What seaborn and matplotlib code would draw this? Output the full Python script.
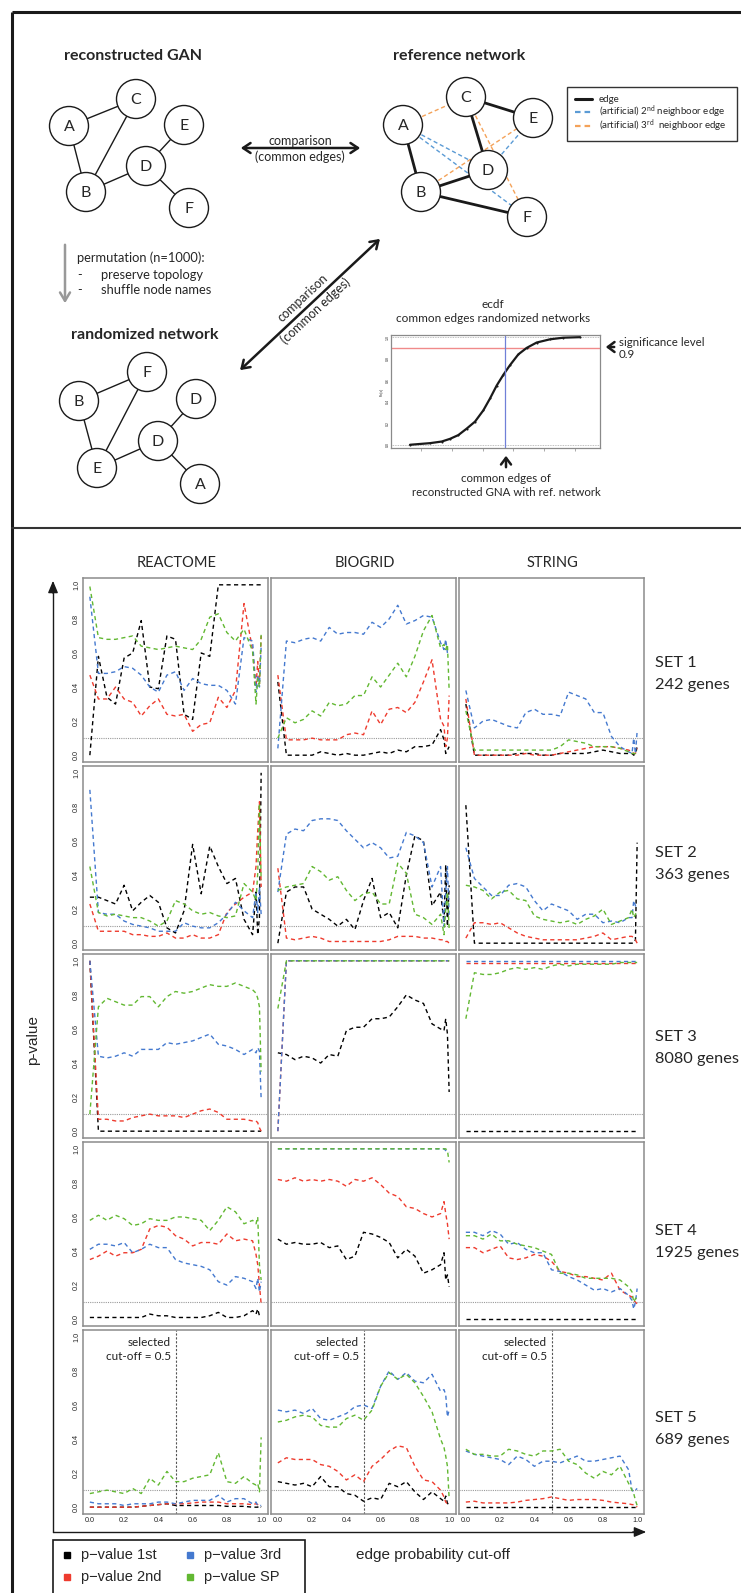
import matplotlib
matplotlib.use("Agg")
import matplotlib.pyplot as plt
import seaborn as sns
import pandas as pd
from matplotlib.patches import Circle, Rectangle

sns.set_theme(style="white")
plt.rcParams["font.family"] = ["Lato", "DejaVu Sans"]
plt.rcParams["mathtext.default"] = "regular"

# ---------------------------------------------------------------- data
cutoffs = [0.00, 0.05, 0.10, 0.15, 0.20, 0.25, 0.30, 0.35, 0.40, 0.45, 0.50, 0.55,
           0.60, 0.65, 0.70, 0.75, 0.80, 0.85, 0.90, 0.95, 0.97, 0.98, 0.99, 1.00]
series_names = ["1st", "2nd", "3rd", "SP"]
series_colors = ["#000000", "#EE3B2E", "#4479CF", "#62B832"]
databases = ["REACTOME", "BIOGRID", "STRING"]
set_names = ["SET 1", "SET 2", "SET 3", "SET 4", "SET 5"]
gene_counts = ["242 genes", "363 genes", "8080 genes", "1925 genes", "689 genes"]
ytick_vals = [0.0, 0.2, 0.4, 0.6, 0.8, 1.0]
xtick_vals = [0.0, 0.2, 0.4, 0.6, 0.8, 1.0]
significance = 0.1
selected_cutoff = 0.5

# SET 1
s1_rea_1st = [0, .58, .34, .30, .57, .60, .79, .40, .39, .70, .68, .24, .21, .60, .58, 1, 1, 1, 1, 1, 1, 1, 1, 1]
s1_rea_2nd = [.47, .33, .33, .40, .33, .31, .23, .29, .33, .24, .23, .24, .14, .18, .19, .34, .28, .38, .89, .62, .40, .55, .42, .70]
s1_rea_3rd = [.93, .48, .48, .49, .52, .51, .47, .40, .37, .47, .49, .38, .45, .42, .41, .41, .38, .30, .69, .67, .37, .47, .40, .64]
s1_rea_sp = [.99, .69, .68, .68, .69, .70, .64, .63, .62, .63, .64, .63, .62, .68, .81, .83, .72, .67, .74, .61, .30, .45, .40, .71]
s1_bio_1st = [.43, 0, 0, 0, 0, .02, .01, 0, .01, 0, 0, .01, .02, .01, .03, .02, .05, .05, .06, .15, .09, .01, .03, .05]
s1_bio_2nd = [.47, .09, .09, .09, .10, .09, .09, .09, .12, .13, .12, .26, .18, .27, .28, .25, .31, .43, .56, .21, .17, .05, .10, .35]
s1_bio_3rd = [.04, .67, .66, .68, .69, .67, .75, .71, .72, .72, .71, .78, .75, .80, .88, .77, .79, .82, .81, .66, .62, .68, .60, .61]
s1_bio_sp = [.10, .22, .19, .21, .26, .23, .31, .29, .30, .35, .35, .46, .40, .47, .54, .46, .58, .73, .82, .63, .65, .62, .65, .38]
s1_str_1st = [.30, 0, 0, 0, 0, 0, .01, .01, .01, 0, 0, .01, .01, .01, .01, .02, .03, .02, .01, .01, .01, 0, .01, .05]
s1_str_2nd = [.33, 0, 0, 0, 0, 0, 0, .01, 0, 0, 0, .01, .02, .03, .04, .05, .05, .05, .04, .03, .02, .01, .01, .04]
s1_str_3rd = [.38, .16, .20, .21, .19, .17, .16, .25, .27, .24, .24, .23, .37, .35, .33, .25, .25, .11, .05, .02, .01, .10, .01, .14]
s1_str_sp = [.26, .03, .03, .03, .03, .03, .03, .03, .03, .03, .03, .05, .09, .08, .07, .05, .05, .05, .04, .02, .01, .01, .01, .03]
# SET 2
s2_rea_1st = [.27, .27, .25, .23, .34, .19, .24, .28, .24, .09, .06, .19, .58, .29, .57, .45, .35, .38, .14, .05, .30, .05, .15, 1.0]
s2_rea_2nd = [.23, .07, .07, .07, .07, .05, .05, .04, .04, .06, .03, .03, .05, .03, .03, .05, .18, .23, .27, .30, .45, .66, .83, .33]
s2_rea_3rd = [.90, .18, .17, .17, .13, .11, .10, .09, .07, .07, .07, .12, .10, .09, .09, .12, .17, .24, .19, .15, .30, .18, .33, .17]
s2_rea_sp = [.45, .18, .16, .17, .16, .15, .15, .13, .10, .13, .25, .23, .19, .17, .18, .16, .15, .16, .35, .30, .25, .41, .82, .37]
s2_bio_1st = [0, .30, .33, .33, .20, .17, .14, .10, .14, .08, .25, .38, .15, .18, .09, .40, .63, .60, .22, .30, .12, .46, .10, .34]
s2_bio_2nd = [.44, .03, .02, .03, .04, .03, .01, .01, .01, .01, .01, .01, .01, .02, .04, .04, .04, .03, .03, .02, .02, .01, .01, 0]
s2_bio_3rd = [.30, .64, .67, .66, .72, .73, .73, .72, .66, .61, .56, .59, .56, .50, .51, .65, .63, .59, .33, .45, .10, .30, .45, .16]
s2_bio_sp = [.31, .33, .34, .35, .45, .42, .37, .39, .31, .25, .29, .30, .23, .23, .47, .41, .17, .15, .11, .17, .05, .20, .30, .08]
s2_str_1st = [.81, 0, 0, 0, 0, 0, 0, 0, 0, 0, 0, 0, 0, 0, 0, 0, 0, 0, 0, 0, 0, 0, .02, .59]
s2_str_2nd = [.03, .12, .12, .11, .12, .09, .06, .04, .03, .02, .02, .02, .02, .02, .03, .04, .06, .02, .03, .04, .04, .03, .02, 0]
s2_str_3rd = [.56, .38, .33, .28, .28, .34, .35, .33, .25, .19, .23, .21, .19, .14, .17, .17, .12, .13, .12, .15, .15, .25, .22, .20]
s2_str_sp = [.34, .33, .31, .26, .30, .31, .26, .25, .16, .14, .13, .12, .13, .11, .14, .16, .20, .11, .13, .15, .20, .15, .17, .19]
# SET 3
s3_rea_1st = [1.0, 0, 0, 0, 0, 0, 0, 0, 0, 0, 0, 0, 0, 0, 0, 0, 0, 0, 0, 0, 0, 0, 0, 0]
s3_rea_2nd = [1.0, .07, .07, .06, .06, .08, .09, .10, .09, .09, .09, .08, .10, .12, .13, .11, .07, .07, .07, .06, .06, .05, .02, 0]
s3_rea_3rd = [1.0, .44, .43, .44, .46, .44, .48, .48, .48, .52, .51, .52, .53, .55, .57, .51, .50, .48, .45, .48, .46, .49, .47, .19]
s3_rea_sp = [.10, .73, .78, .76, .74, .74, .79, .79, .73, .79, .82, .81, .82, .84, .86, .85, .85, .87, .85, .83, .81, .78, .73, .35]
s3_bio_1st = [.46, .45, .42, .44, .43, .40, .45, .44, .59, .61, .61, .66, .66, .67, .73, .80, .77, .75, .63, .60, .59, .66, .57, .23]
s3_bio_2nd = [0, 1, 1, 1, 1, 1, 1, 1, 1, 1, 1, 1, 1, 1, 1, 1, 1, 1, 1, 1, 1, 1, 1, 1]
s3_bio_3rd = [0, 1, 1, 1, 1, 1, 1, 1, 1, 1, 1, 1, 1, 1, 1, 1, 1, 1, 1, 1, 1, 1, 1, 1]
s3_bio_sp = [.72, 1, 1, 1, 1, 1, 1, 1, 1, 1, 1, 1, 1, 1, 1, 1, 1, 1, 1, 1, 1, 1, 1, 1]
s3_str_1st = [0, 0, 0, 0, 0, 0, 0, 0, 0, 0, 0, 0, 0, 0, 0, 0, 0, 0, 0, 0, 0, 0, 0, 0]
s3_str_2nd = [.99, .99, .99, .99, .99, .99, .99, .99, .99, .99, .99, .99, .99, .99, .99, .99, .99, .99, .99, .99, .99, .99, .99, .99]
s3_str_3rd = [1, 1, 1, 1, 1, 1, 1, 1, 1, 1, 1, 1, 1, 1, 1, 1, 1, 1, 1, 1, 1, 1, 1, 1]
s3_str_sp = [.66, .93, .92, .92, .93, .95, .96, .95, .96, .95, .97, .98, .97, .98, .98, .98, .98, .98, .99, .99, .99, .99, .99, .99]
# SET 4
s4_rea_1st = [.01, .01, .01, .01, .01, .01, .01, .03, .02, .02, .01, .01, .01, .01, .02, .04, .01, .01, .02, .05, .03, .06, .02, .01]
s4_rea_2nd = [.35, .37, .40, .37, .39, .39, .41, .53, .55, .54, .49, .47, .43, .45, .45, .44, .50, .46, .47, .46, .38, .32, .20, .09]
s4_rea_3rd = [.41, .44, .44, .43, .45, .39, .41, .44, .42, .42, .35, .33, .32, .31, .29, .22, .20, .25, .24, .22, .18, .24, .16, .22]
s4_rea_sp = [.58, .61, .58, .61, .59, .55, .56, .59, .58, .58, .60, .60, .59, .58, .52, .58, .66, .63, .56, .58, .56, .60, .32, .23]
s4_bio_1st = [.47, .44, .45, .44, .44, .45, .42, .43, .35, .37, .51, .50, .48, .45, .36, .41, .37, .27, .29, .32, .39, .23, .26, .19]
s4_bio_2nd = [.82, .81, .83, .81, .82, .81, .82, .81, .78, .82, .81, .83, .79, .74, .72, .66, .65, .62, .60, .62, .69, .62, .56, .47]
s4_bio_3rd = [1, 1, 1, 1, 1, 1, 1, 1, 1, 1, 1, 1, 1, 1, 1, 1, 1, 1, 1, 1, 1, .99, .98, .98]
s4_bio_sp = [1, 1, 1, 1, 1, 1, 1, 1, 1, 1, 1, 1, 1, 1, 1, 1, 1, 1, 1, 1, 1, 1, .99, .92]
s4_str_1st = [0, 0, 0, 0, 0, 0, 0, 0, 0, 0, 0, 0, 0, 0, 0, 0, 0, 0, 0, 0, 0, 0, 0, 0]
s4_str_2nd = [.42, .42, .39, .41, .43, .36, .35, .36, .38, .37, .34, .28, .27, .25, .25, .24, .23, .27, .17, .14, .13, .11, .10, .09]
s4_str_3rd = [.51, .51, .49, .52, .50, .44, .45, .41, .39, .39, .29, .28, .25, .23, .20, .17, .18, .16, .18, .14, .11, .06, .10, .18]
s4_str_sp = [.49, .49, .47, .50, .46, .46, .44, .43, .42, .40, .38, .27, .27, .26, .24, .24, .24, .24, .23, .19, .16, .10, .12, .13]
# SET 5
s5_rea_1st = [0, 0, 0, 0, 0, 0, .005, .01, .015, .02, .01, .01, .01, .01, .01, .01, .005, .005, .005, 0, 0, 0, .01, 0]
s5_rea_2nd = [0, 0, 0, 0, 0, 0, .005, .01, .015, .02, .02, .02, .025, .03, .03, .03, .02, .02, .02, .015, .02, .015, .01, .01]
s5_rea_3rd = [.03, .02, .02, .02, .01, .02, .02, .02, .03, .03, .02, .03, .04, .04, .04, .07, .03, .05, .05, .02, .03, .01, .01, .01]
s5_rea_sp = [.08, .09, .10, .09, .08, .11, .08, .17, .13, .21, .15, .15, .17, .18, .19, .32, .15, .14, .18, .14, .13, .14, .09, .41]
s5_bio_1st = [.15, .14, .13, .14, .12, .18, .12, .12, .08, .07, .035, .055, .045, .14, .12, .15, .09, .045, .09, .05, .035, .065, .025, .005]
s5_bio_2nd = [.26, .29, .28, .28, .28, .25, .24, .21, .16, .19, .15, .24, .28, .33, .36, .35, .24, .16, .15, .10, .06, .03, .02, .01]
s5_bio_3rd = [.57, .56, .57, .55, .58, .52, .51, .53, .55, .59, .60, .58, .71, .80, .75, .79, .74, .73, .78, .68, .69, .66, .53, .57]
s5_bio_sp = [.50, .51, .53, .54, .53, .48, .47, .47, .52, .54, .51, .57, .71, .79, .75, .78, .73, .65, .56, .40, .35, .30, .24, .05]
s5_str_1st = [0, 0, 0, 0, 0, 0, 0, 0, 0, 0, 0, 0, 0, 0, 0, 0, 0, 0, 0, 0, 0, 0, 0, 0]
s5_str_2nd = [.03, .035, .025, .025, .025, .025, .03, .04, .045, .05, .06, .05, .04, .045, .045, .045, .04, .03, .025, .02, .015, .015, .01, 0]
s5_str_3rd = [.33, .31, .30, .29, .28, .25, .30, .28, .24, .27, .27, .26, .28, .30, .27, .27, .28, .29, .30, .22, .10, .09, .10, .11]
s5_str_sp = [.34, .31, .31, .30, .30, .34, .33, .31, .30, .33, .33, .34, .27, .25, .20, .17, .21, .19, .24, .14, .10, .08, .04, .01]

# ecdf inset (common edges of randomized networks)
ecdf_x = [6, 12, 15.5, 18, 20.5, 23, 25.5, 28, 30, 32, 34, 36, 38.5, 41, 44, 48, 52, 57]
ecdf_y = [0, .015, .03, .055, .09, .15, .215, .32, .43, .55, .65, .74, .84, .90, .95, .98, .995, 1.0]
ecdf_observed = 34.5
ecdf_sig_level = 0.9
ecdf_xticks = [9.2, 18.5, 27.8, 37.0, 46.2, 55.4]

# network diagrams
gan_nodes = {"A": (69, 126), "C": (136, 99), "E": (184, 125), "D": (146, 166), "B": (86, 192), "F": (189, 208)}
gan_edges = [("A", "C"), ("A", "B"), ("B", "C"), ("B", "D"), ("D", "E"), ("D", "F")]
ref_nodes = {"A": (403, 125), "C": (466, 97), "E": (533, 118), "D": (488, 170), "B": (421, 192), "F": (527, 217)}
ref_edges = [("A", "B"), ("C", "E"), ("C", "D"), ("B", "D"), ("B", "F")]
ref_edges_2nd = [("A", "D"), ("A", "F"), ("D", "E")]
ref_edges_3rd = [("A", "C"), ("B", "E"), ("C", "F")]
rand_labels = ["F", "B", "D", "D", "E", "A"]
rand_pos = [(147, 372), (79, 401), (196, 399), (158, 441), (97, 468), (200, 484)]
rand_edges = [(1, 0), (1, 4), (4, 0), (4, 3), (3, 2), (3, 5)]

# ---------------------------------------------------------------- figure
W, H = 741, 1593
fig = plt.figure(figsize=(W / 100, H / 100), dpi=100)
ov = fig.add_axes([0, 0, 1, 1])
ov.set_xlim(0, W)
ov.set_ylim(H, 0)
ov.axis("off")


def rect(l, t, w, h):
    return [l / W, 1 - (t + h) / H, w / W, h / H]


NARROW = ["Lato", "DejaVu Sans"]
HELV = ["Liberation Sans", "DejaVu Sans"]
CAL = ["Lato", "DejaVu Sans"]
R_NODE = 19.5

# outer frame and divider
ov.plot([12, W], [12, 12], color="k", lw=2.2, solid_capstyle="butt")
ov.plot([12, 12], [12, H], color="k", lw=2.2, solid_capstyle="butt")
ov.plot([12, W], [528, 528], color="#333333", lw=1.5)


def draw_net(pos, labels, edges, lw=1.0):
    for a, b in edges:
        ov.plot([pos[a][0], pos[b][0]], [pos[a][1], pos[b][1]], color="k", lw=lw, zorder=1)
    for key, lab in labels:
        x, y = pos[key]
        ov.add_patch(Circle((x, y), R_NODE, facecolor="white", edgecolor="k", lw=1.0, zorder=3))
        ov.text(x, y + 1, lab, ha="center", va="center", fontsize=11.5, family=CAL, zorder=4)


# reconstructed GAN
ov.text(133, 56, "reconstructed GAN", ha="center", va="center", fontsize=11.5, fontweight="bold", family=CAL)
draw_net(gan_nodes, [(k, k) for k in gan_nodes], gan_edges)

# reference network
ov.text(459, 56, "reference network", ha="center", va="center", fontsize=11.5, fontweight="bold", family=CAL)
for a, b in ref_edges_2nd:
    ov.plot([ref_nodes[a][0], ref_nodes[b][0]], [ref_nodes[a][1], ref_nodes[b][1]],
            color="#5B9BD5", lw=1.0, dashes=(3, 2), zorder=1)
for a, b in ref_edges_3rd:
    ov.plot([ref_nodes[a][0], ref_nodes[b][0]], [ref_nodes[a][1], ref_nodes[b][1]],
            color="#F4A259", lw=1.0, dashes=(3, 2), zorder=1)
draw_net(ref_nodes, [(k, k) for k in ref_nodes], ref_edges, lw=2.0)

# legend of reference network
ov.add_patch(Rectangle((567, 87), 170, 54, facecolor="white", edgecolor="#333333", lw=1.0))
ov.plot([575, 592], [99, 99], color="k", lw=2.2)
ov.plot([575, 592], [112, 112], color="#5B9BD5", lw=1.6, dashes=(2.5, 1.8))
ov.plot([575, 592], [126, 126], color="#F4A259", lw=1.6, dashes=(2.5, 1.8))
ov.text(599, 99, "edge", fontsize=7, va="center", family=CAL)
ov.text(599, 112, "(artificial) 2$^{nd}$ neighboor edge", fontsize=7, va="center", family=CAL)
ov.text(599, 126, "(artificial) 3$^{rd}$  neighboor edge", fontsize=7, va="center", family=CAL)

# comparison arrow (horizontal)
ov.annotate("", xy=(238, 148), xytext=(363, 148),
            arrowprops=dict(arrowstyle="<->,head_length=0.45,head_width=0.3", lw=1.8, color="k"))
ov.text(300, 141, "comparison", ha="center", va="center", fontsize=9, family=CAL)
ov.text(300, 157, "(common edges)", ha="center", va="center", fontsize=9, family=CAL)

# permutation arrow and text
ov.annotate("", xy=(65, 306), xytext=(65, 242),
            arrowprops=dict(arrowstyle="->,head_length=0.5,head_width=0.3", lw=1.8, color="#999999"))
ov.text(77, 258, "permutation (n=1000):", va="center", fontsize=9.3, family=CAL)
ov.text(77, 275, "-", va="center", fontsize=9.3, family=CAL)
ov.text(101, 275, "preserve topology", va="center", fontsize=9.3, family=CAL)
ov.text(77, 290, "-", va="center", fontsize=9.3, family=CAL)
ov.text(101, 290, "shuffle node names", va="center", fontsize=9.3, family=CAL)

# diagonal comparison arrow
ov.annotate("", xy=(238, 372), xytext=(382, 237),
            arrowprops=dict(arrowstyle="<->,head_length=0.45,head_width=0.3", lw=1.8, color="k"))
ov.text(303, 298, "comparison", ha="center", va="center", rotation=43, rotation_mode="anchor",
        fontsize=9, family=CAL)
ov.text(316, 311, "(common edges)", ha="center", va="center", rotation=43, rotation_mode="anchor",
        fontsize=9, family=CAL)

# randomized network
ov.text(145, 335, "randomized network", ha="center", va="center", fontsize=11.5, fontweight="bold", family=CAL)
rpos = {i: p for i, p in enumerate(rand_pos)}
draw_net(rpos, list(enumerate(rand_labels)), rand_edges)

# ecdf inset
ov.text(493, 304, "ecdf", ha="center", va="center", fontsize=8.5, family=CAL)
ov.text(493, 318, "common edges randomized networks", ha="center", va="center", fontsize=8.5, family=CAL)
eax = fig.add_axes(rect(391, 335, 209, 113))
eax.axhline(0, color="#AAAAAA", lw=0.6, ls=(0, (1, 1)))
eax.axhline(1, color="#AAAAAA", lw=0.6, ls=(0, (1, 1)))
eax.axhline(ecdf_sig_level, color="#F08A8A", lw=1.0)
sns.lineplot(x=ecdf_x, y=ecdf_y, color="k", lw=1.6, ax=eax, marker="o", markersize=1.5,
             markeredgewidth=0)
eax.axvline(ecdf_observed, color="#7080D8", lw=0.9)
eax.set_xlim(0.3, 63)
eax.set_ylim(-0.03, 1.02)
eax.set_xticks(ecdf_xticks)
eax.set_xticklabels([])
eax.set_yticks(ytick_vals)
eax.set_yticklabels([f"{v:.1f}" for v in ytick_vals], fontsize=2.5, rotation=90, va="center", family=HELV)
eax.set_ylabel("Fn(x)", fontsize=2.5, family=HELV, labelpad=1)
eax.tick_params(axis="x", length=2.5, width=0.5, color="#888888", direction="out", bottom=True)
eax.tick_params(axis="y", length=0, pad=1)
for sp in eax.spines.values():
    sp.set_color("#8A8A8A")
    sp.set_linewidth(0.9)
eax.set_xlabel("")

# annotations around ecdf
ov.plot([505, 502, 502, 499, 502, 502, 505], [337, 338, 355, 356, 357, 373, 374], color="#5B9BD5", lw=1.0)
ov.text(488, 356, "p-value", ha="right", va="center", fontsize=8.3, family=CAL)
ov.text(493, 369, "e.g. p = 0.36", ha="right", va="center", fontsize=8.3, family=CAL)
ov.annotate("", xy=(603, 347), xytext=(617, 347),
            arrowprops=dict(arrowstyle="->,head_length=0.4,head_width=0.3", lw=1.8, color="k"))
ov.text(619, 342, "significance level", va="center", fontsize=8.3, family=CAL)
ov.text(619, 355, "0.9", va="center", fontsize=8.3, family=CAL)
ov.annotate("", xy=(506, 453), xytext=(506, 470),
            arrowprops=dict(arrowstyle="->,head_length=0.4,head_width=0.3", lw=1.8, color="k"))
ov.text(506, 479, "common edges of", ha="center", va="center", fontsize=8.3, family=CAL)
ov.text(506, 493, "reconstructed GNA with ref. network", ha="center", va="center", fontsize=8.3, family=CAL)

# ---------------------------------------------------------------- p-value panels
table = {
    (0, 0): [s1_rea_1st, s1_rea_2nd, s1_rea_3rd, s1_rea_sp],
    (0, 1): [s1_bio_1st, s1_bio_2nd, s1_bio_3rd, s1_bio_sp],
    (0, 2): [s1_str_1st, s1_str_2nd, s1_str_3rd, s1_str_sp],
    (1, 0): [s2_rea_1st, s2_rea_2nd, s2_rea_3rd, s2_rea_sp],
    (1, 1): [s2_bio_1st, s2_bio_2nd, s2_bio_3rd, s2_bio_sp],
    (1, 2): [s2_str_1st, s2_str_2nd, s2_str_3rd, s2_str_sp],
    (2, 0): [s3_rea_1st, s3_rea_2nd, s3_rea_3rd, s3_rea_sp],
    (2, 1): [s3_bio_1st, s3_bio_2nd, s3_bio_3rd, s3_bio_sp],
    (2, 2): [s3_str_1st, s3_str_2nd, s3_str_3rd, s3_str_sp],
    (3, 0): [s4_rea_1st, s4_rea_2nd, s4_rea_3rd, s4_rea_sp],
    (3, 1): [s4_bio_1st, s4_bio_2nd, s4_bio_3rd, s4_bio_sp],
    (3, 2): [s4_str_1st, s4_str_2nd, s4_str_3rd, s4_str_sp],
    (4, 0): [s5_rea_1st, s5_rea_2nd, s5_rea_3rd, s5_rea_sp],
    (4, 1): [s5_bio_1st, s5_bio_2nd, s5_bio_3rd, s5_bio_sp],
    (4, 2): [s5_str_1st, s5_str_2nd, s5_str_3rd, s5_str_sp],
}
rows = []
for (r, c), lists in table.items():
    for name, vals in zip(series_names, lists):
        assert len(vals) == len(cutoffs), (r, c, name, len(vals))
        for x, v in zip(cutoffs, vals):
            rows.append((r, c, name, x, v))
df = pd.DataFrame(rows, columns=["set", "db", "series", "cutoff", "p"])
palette = dict(zip(series_names, series_colors))

P_LEFT, P_TOP, P_STEP, P_W, P_H = 83, 578, 188, 185, 184
for r in range(5):
    for c in range(3):
        ax = fig.add_axes(rect(P_LEFT + P_STEP * c, P_TOP + P_STEP * r, P_W, P_H))
        sub = df[(df["set"] == r) & (df["db"] == c)]
        ax.axhline(significance, color="#9A9A9A", lw=0.8, ls=(0, (1, 1)), zorder=1)
        if r == 4:
            ax.axvline(selected_cutoff, color="#555555", lw=0.8, ls=(0, (2, 1.5)), zorder=1)
            ax.text(0.475, 0.965, "selected", ha="right", va="center", fontsize=8.5, family=NARROW,
                    color="#222222")
            ax.text(0.475, 0.885, "cut-off = 0.5", ha="right", va="center", fontsize=8.5, family=NARROW,
                    color="#222222")
        sns.lineplot(data=sub, x="cutoff", y="p", hue="series", hue_order=series_names,
                     palette=palette, estimator=None, legend=False, ax=ax,
                     lw=1.0, dashes=(3, 2.4), zorder=3)
        ax.set_xlim(-0.04, 1.04)
        ax.set_ylim(-0.04, 1.04)
        ax.set_xlabel("")
        ax.set_ylabel("")
        ax.set_yticks(ytick_vals)
        ax.set_xticks(xtick_vals)
        if c == 0:
            ax.set_yticklabels([f"{v:.1f}" for v in ytick_vals], rotation=90, va="center",
                               fontsize=5.2, family=HELV)
        else:
            ax.set_yticklabels([])
        if r == 4:
            ax.set_xticklabels([f"{v:.1f}" for v in xtick_vals], fontsize=5.2, family=HELV)
        else:
            ax.set_xticklabels([])
        ax.tick_params(axis="both", length=0, pad=2)
        for sp in ax.spines.values():
            sp.set_color("#8C8C8C")
            sp.set_linewidth(1.1)

# column titles and row labels
for c, name in enumerate(databases):
    ov.text(P_LEFT + P_STEP * c + P_W / 2 + 1, 563, name, ha="center", va="center", fontsize=10.5,
            family=NARROW)
set_label_y = [663, 853, 1037, 1231, 1418]
for r in range(5):
    ov.text(655, set_label_y[r], set_names[r], ha="left", va="center", fontsize=11.8, family=NARROW)
    ov.text(655, set_label_y[r] + 22, gene_counts[r], ha="left", va="center", fontsize=11.8, family=NARROW)

# axis arrows
ov.plot([53, 53], [1532, 590], color="k", lw=1.0)
ov.annotate("", xy=(53, 578), xytext=(53, 596),
            arrowprops=dict(arrowstyle="-|>,head_length=0.6,head_width=0.25", lw=1.0, color="k"))
ov.plot([53, 636], [1532, 1532], color="k", lw=1.0)
ov.annotate("", xy=(649, 1532), xytext=(630, 1532),
            arrowprops=dict(arrowstyle="-|>,head_length=0.6,head_width=0.25", lw=1.0, color="k"))
ov.text(33, 1040, "p-value", rotation=90, ha="center", va="center", fontsize=11, family=HELV)
ov.text(433, 1555, "edge probability cut-off", ha="center", va="center", fontsize=11, family=HELV)

# legend of p-value series
ov.add_patch(Rectangle((53, 1540), 252, 70, facecolor="white", edgecolor="k", lw=1.2))
leg_pos = [(67, 1555), (67, 1577), (190, 1555), (190, 1577)]
for (lx, ly), name, col in zip(leg_pos, series_names, series_colors):
    ov.plot([lx], [ly], marker="s", ms=4.5, color=col, ls="none")
    ov.text(lx + 14, ly, "p\u2212value " + name, va="center", fontsize=10.5, family=HELV)

fig.savefig("out.png", dpi=100)
